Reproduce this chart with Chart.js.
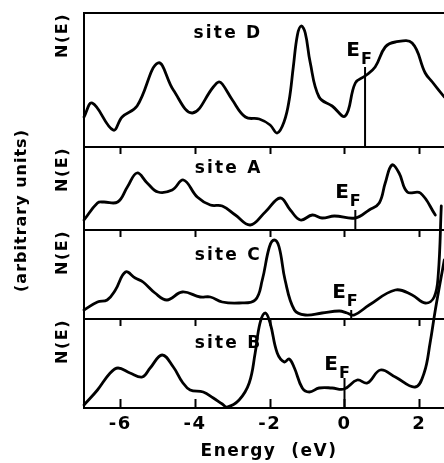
<!DOCTYPE html>
<html><head><meta charset="utf-8">
<script src="https://cdn.jsdelivr.net/npm/chart.js@4"></script>
<style>
html,body{margin:0;padding:0;background:#fff;overflow:hidden;width:444px;height:463px}
#wrap{position:absolute;left:0;top:0;width:456px;height:463px}
</style>
</head><body>
<div id="wrap"><canvas id="c" width="456" height="463"></canvas></div>
<script>
// ---- data (energy in eV, N(E) in arbitrary units above each panel baseline) ----
const xTicks = [-6, -4, -2, 0, 2];

const energyD = [-6.97,-6.75,-6.19,-5.95,-5.55,-4.99,-4.58,-4.07,-3.51,-3.37,-3.27,-3.0,-2.65,-2.28,-1.99,-1.80,-1.61,-1.48,-1.37,-1.26,-1.16,-1.05,-0.92,-0.68,-0.33,0.02,0.29,0.55,0.82,1.09,1.36,1.81,2.16,2.35,2.67];
const nD      = [3.0,4.4,1.7,3.0,4.1,8.4,5.7,3.4,6.0,6.5,6.3,4.7,3.0,2.8,2.2,1.4,2.6,4.7,8.0,11.2,12.1,11.4,8.5,5.0,4.1,3.1,6.4,7.1,8.0,10.0,10.5,10.4,7.4,6.5,5.0];

const energyA = [-6.97,-6.61,-6.45,-6.07,-5.81,-5.55,-5.28,-4.99,-4.61,-4.31,-3.94,-3.59,-3.27,-2.92,-2.52,-2.12,-1.72,-1.45,-1.18,-0.86,-0.60,-0.27,0.29,0.66,0.93,1.09,1.27,1.46,1.68,2.03,2.43];
const nA      = [1.0,2.7,2.8,2.8,4.3,5.7,4.7,3.8,4.0,5.0,3.3,2.5,2.4,1.5,0.5,1.8,3.2,2.0,1.0,1.5,1.2,1.4,1.2,2.0,2.7,4.7,6.5,5.7,3.8,3.7,1.5];

const energyC = [-6.97,-6.61,-6.35,-6.13,-5.86,-5.60,-5.39,-5.07,-4.75,-4.34,-3.86,-3.59,-3.27,-2.82,-2.39,-2.20,-2.01,-1.88,-1.75,-1.59,-1.34,-1.05,-0.60,-0.14,0.07,0.26,0.66,1.36,1.81,2.16,2.40,2.51,2.59];
const nC      = [0.9,1.7,1.9,2.9,4.7,4.1,3.7,2.6,1.9,2.7,2.2,2.2,1.7,1.6,1.9,3.9,7.2,7.9,7.2,3.9,0.9,0.4,0.6,0.8,0.6,0.4,1.4,2.9,2.4,1.6,2.2,4.5,11.3];

const energyB = [-6.97,-6.61,-6.27,-6.06,-5.74,-5.41,-5.20,-4.88,-4.58,-4.34,-4.13,-3.78,-3.51,-3.27,-3.14,-2.82,-2.55,-2.39,-2.26,-2.12,-1.99,-1.80,-1.61,-1.48,-1.34,-1.13,-0.94,-0.68,-0.33,-0.01,0.34,0.61,0.96,1.36,1.89,2.13,2.29,2.43,2.67];
const nB      = [0.3,1.8,3.5,4.0,3.5,3.1,4.0,5.3,4.1,2.6,1.8,1.6,1.0,0.4,0.1,0.8,2.5,5.5,8.5,9.5,8.5,5.5,4.6,4.9,4.0,2.0,1.6,2.0,2.0,1.9,2.8,2.5,3.8,3.1,2.1,3.5,6.5,9.8,14.8];

// Fermi level markers: energy and vertical extent [from, to] in panel units
const fermiE    = {D: 0.55, A: 0.29, C: 0.18, B: 0.0};
const fermiSpan = {D: [0, 8.0], A: [0, 2.0], C: [0, 0.9], B: [0, 3.0]};

const siteNames = ['D', 'A', 'C', 'B'];
const panelMax  = {D: 13.4, A: 8.3, C: 8.9, B: 8.9};

// label anchors in data units
const siteLabelPos = {D: [-4.04, 10.9], A: [-4.01, 5.7], C: [-4.01, 5.9], B: [-4.01, 6.0]};
const efLabelPos   = {D: [0.05, 9.1],  A: [-0.25, 3.2], C: [-0.33, 2.1], B: [-0.54, 3.8]};

const series = {D: [energyD, nD], A: [energyA, nA], C: [energyC, nC], B: [energyB, nB]};

// ---- chart ----
const FONT = '"DejaVu Sans", sans-serif';
Chart.defaults.color = '#000';
Chart.defaults.font.family = FONT;

const datasets = [];
siteNames.forEach(s => {
  const [ex, ny] = series[s];
  datasets.push({
    label: 'site ' + s, yAxisID: 'y' + s,
    data: ex.map((x, i) => ({x, y: ny[i]})),
    borderColor: '#000', borderWidth: 2.8, pointRadius: 0,
    tension: 0.4, fill: false, clip: false,
    borderJoinStyle: 'round', borderCapStyle: 'round'
  });
  datasets.push({
    label: 'EF ' + s, yAxisID: 'y' + s,
    data: fermiSpan[s].map(v => ({x: fermiE[s], y: v})),
    borderColor: '#000', borderWidth: 2, pointRadius: 0, fill: false, clip: false
  });
});

const stackWeights = {D: 134, A: 83, C: 89, B: 89};
const layoutWeights = {D: 4, A: 3, C: 2, B: 1};

const scales = {
  x: {
    type: 'linear', position: 'bottom', min: -6.97, max: 2.93,
    afterBuildTicks: sc => { sc.ticks = xTicks.map(v => ({value: v})); },
    afterFit: sc => { sc.height = 55; },
    grid: {display: false, drawTicks: false},
    border: {display: true, color: '#000', width: 2},
    ticks: {font: {family: FONT, weight: 'bold', size: 18}, color: '#000', padding: 6, maxRotation: 0},
    title: {display: true, text: 'Energy  (eV)', color: '#000',
            font: {family: FONT, weight: 'bold', size: 17}, padding: {top: 0, bottom: 1}}
  }
};
siteNames.forEach(s => {
  scales['y' + s] = {
    type: 'linear', position: 'left', stack: 'sites',
    stackWeight: stackWeights[s], weight: layoutWeights[s],
    min: 0, max: panelMax[s],
    afterBuildTicks: sc => { sc.ticks = [{value: sc.min}, {value: sc.max}]; },
    afterFit: sc => { sc.width = 84; },
    ticks: {display: false},
    grid: {drawTicks: false, color: '#000', lineWidth: 2},
    border: {display: true, color: '#000', width: 2},
    title: {display: true, text: 'N(E)', align: 'end', color: '#000',
            font: {family: FONT, weight: 'bold', size: 16}, padding: {top: 53, bottom: 0}}
  };
});

const decor = {
  id: 'decor',
  beforeDraw(chart) { chart.ctx.letterSpacing = '1.5px'; },
  afterDatasetsDraw(chart) {
    const ctx = chart.ctx, xs = chart.scales.x, ca = chart.chartArea;
    ctx.save();
    ctx.strokeStyle = '#000'; ctx.fillStyle = '#000'; ctx.lineWidth = 2;
    // inward ticks
    xTicks.forEach(v => {
      const px = Math.round(xs.getPixelForValue(v)) + 0.5;
      ['A', 'C', 'B'].forEach(s => {
        const top = chart.scales['y' + s].top;
        ctx.beginPath(); ctx.moveTo(px, top); ctx.lineTo(px, top + 7); ctx.stroke();
      });
      ctx.beginPath(); ctx.moveTo(px, ca.bottom); ctx.lineTo(px, ca.bottom - 9); ctx.stroke();
    });
    // labels
    ctx.textBaseline = 'alphabetic'; ctx.textAlign = 'left';
    siteNames.forEach(s => {
      const ys = chart.scales['y' + s];
      ctx.letterSpacing = '2.2px';
      ctx.font = 'bold 17px ' + FONT;
      const [lx, ly] = siteLabelPos[s];
      ctx.fillText('site ' + s, xs.getPixelForValue(lx), ys.getPixelForValue(ly));
      ctx.letterSpacing = '0px';
      const [ex, ey] = efLabelPos[s];
      const px = xs.getPixelForValue(ex), py = ys.getPixelForValue(ey);
      ctx.font = 'bold 20px ' + FONT;
      ctx.fillText('E', px, py);
      const w = ctx.measureText('E').width;
      ctx.font = 'bold 16px ' + FONT;
      ctx.fillText('F', px + w + 1, py + 8);
    });
    // overall y label
    ctx.letterSpacing = '1px';
    ctx.translate(22, (ca.top + ca.bottom) / 2);
    ctx.rotate(-Math.PI / 2);
    ctx.textAlign = 'center'; ctx.textBaseline = 'middle';
    ctx.font = 'bold 16px ' + FONT;
    ctx.fillText('(arbitrary units)', 0, 0);
    ctx.restore();
  }
};

new Chart(document.getElementById('c'), {
  type: 'line',
  data: {datasets},
  options: {
    responsive: false, animation: false, devicePixelRatio: 1,
    layout: {padding: {top: 13, left: 0, right: 2, bottom: 0}},
    plugins: {legend: {display: false}, tooltip: {enabled: false}},
    scales
  },
  plugins: [decor]
});
</script>
</body></html>
